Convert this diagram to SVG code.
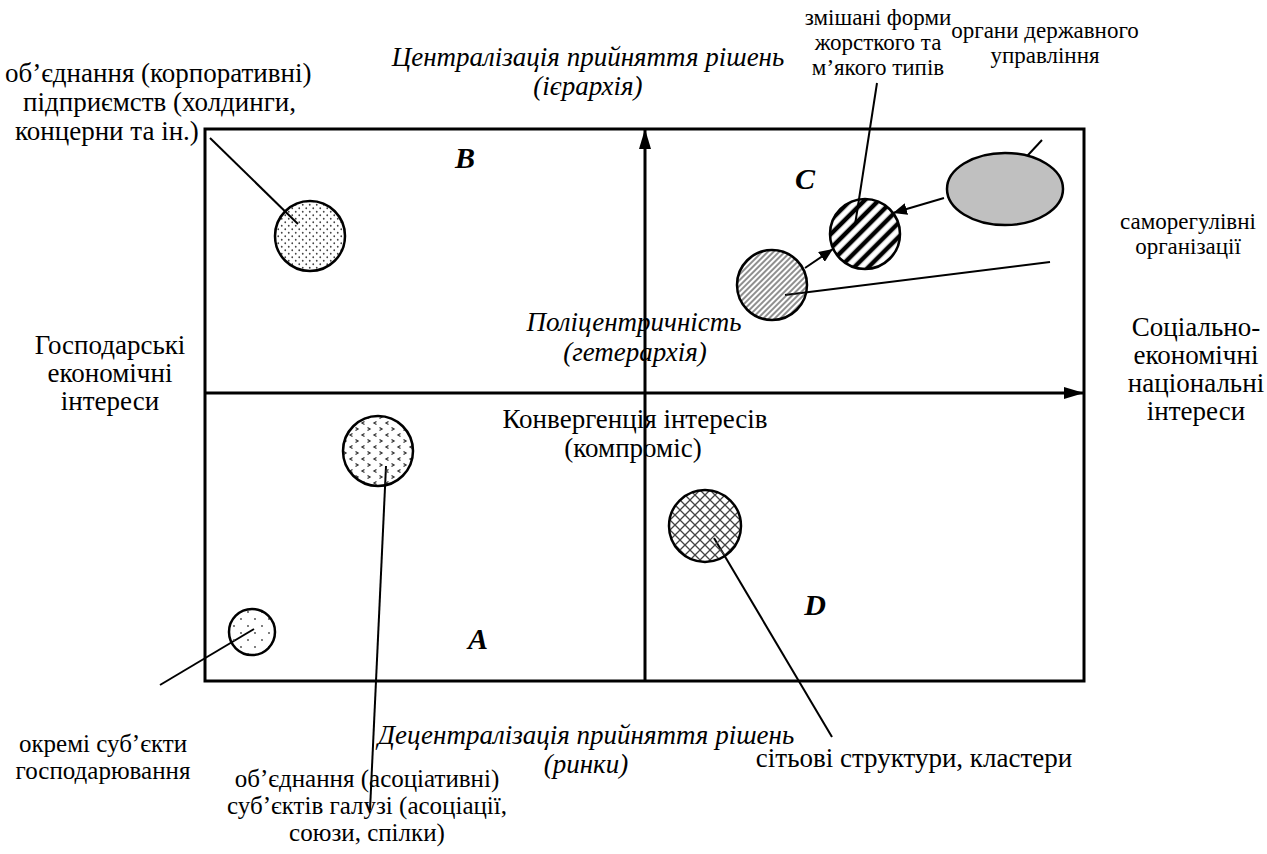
<svg xmlns="http://www.w3.org/2000/svg" width="1267" height="854" viewBox="0 0 1267 854">
<style>
text{font-family:"Liberation Serif","Times New Roman",serif;font-size:27px;fill:#000;text-anchor:middle}
.it{font-style:italic}
.st{text-anchor:start}
.sm{font-size:23px}
.md{font-size:25px}
.q{font-style:italic;font-weight:bold;font-size:30px}
.ln{stroke:#000;stroke-width:2;fill:none}
.ax{stroke:#000;stroke-width:3;fill:none}
.c{stroke:#000;stroke-width:2.5}
</style>
<defs>
<marker id="axh" viewBox="0 0 20 12" refX="20" refY="6" markerWidth="20" markerHeight="12" markerUnits="userSpaceOnUse" orient="auto"><path d="M0,0L20,6L0,12z" fill="#000"/></marker>
<marker id="sh" viewBox="0 0 14 12" refX="14" refY="6" markerWidth="14" markerHeight="12" markerUnits="userSpaceOnUse" orient="auto"><path d="M0,0L14,6L0,12z" fill="#000"/></marker>
<pattern id="pDots" width="7" height="7" patternUnits="userSpaceOnUse"><circle cx="1.75" cy="1.75" r="0.9" fill="#444"/><circle cx="5.25" cy="5.25" r="0.9" fill="#444"/></pattern>
<pattern id="pSparse" width="14" height="14" patternUnits="userSpaceOnUse"><circle cx="3" cy="3" r="0.9" fill="#444"/><circle cx="10" cy="10" r="0.9" fill="#444"/></pattern>
<pattern id="pChev" width="12" height="12" patternUnits="userSpaceOnUse"><path d="M4.5,1.5L2,3L4.5,4.5" stroke="#333" stroke-width="1.3" fill="none"/><path d="M7.5,7.5L10,9L7.5,10.5" stroke="#333" stroke-width="1.3" fill="none"/></pattern>
<pattern id="pCross" width="10" height="10" patternUnits="userSpaceOnUse"><path d="M0,0L10,10M10,0L0,10" stroke="#444" stroke-width="1.3"/></pattern>
<pattern id="pHatch" width="4" height="4" patternUnits="userSpaceOnUse" patternTransform="rotate(45)"><line x1="1" y1="0" x2="1" y2="4" stroke="#333" stroke-width="1.1"/></pattern>
<pattern id="pBold" width="10" height="10" patternUnits="userSpaceOnUse" patternTransform="rotate(45)"><line x1="3" y1="0" x2="3" y2="10" stroke="#000" stroke-width="4.5"/></pattern>
</defs>
<rect width="1267" height="854" fill="#fff"/>

<g id="frame">
<rect x="205" y="129" width="879" height="552" class="ax"/>
</g>

<g id="connectors">
<line x1="645" y1="681" x2="645" y2="129" class="ax" marker-end="url(#axh)"/>
<line x1="205" y1="393" x2="1084" y2="393" class="ax" marker-end="url(#axh)"/>
<line x1="210" y1="138" x2="298" y2="224" class="ln"/>
<line x1="160" y1="685" x2="254" y2="629" class="ln"/>
<line x1="370" y1="810" x2="386" y2="466" class="ln"/>
<line x1="714" y1="538" x2="832" y2="737" class="ln"/>
<line x1="785" y1="295" x2="1050" y2="262" class="ln"/>
<line x1="877" y1="83" x2="855" y2="225" class="ln"/>
<line x1="1042" y1="140" x2="1016" y2="168" class="ln"/>
<line x1="944" y1="198" x2="893" y2="213" class="ln" marker-end="url(#sh)"/>
<line x1="805" y1="268" x2="833" y2="249" class="ln" marker-end="url(#sh)"/>
</g>

<g id="nodeB"><circle cx="310" cy="236" r="35" fill="url(#pDots)" class="c"/></g>
<g id="nodeAssoc"><circle cx="378" cy="451" r="35" fill="url(#pChev)" class="c"/></g>
<g id="nodeSingle"><circle cx="252" cy="632" r="23" fill="url(#pSparse)" class="c"/></g>
<g id="nodeNet"><circle cx="705" cy="526" r="36" fill="url(#pCross)" class="c"/></g>
<g id="nodeSelfReg"><circle cx="772" cy="285" r="35" fill="url(#pHatch)" class="c"/></g>
<g id="nodeMixed"><circle cx="865" cy="234" r="35" fill="url(#pBold)" class="c"/></g>
<g id="nodeGov"><ellipse cx="1005" cy="189" rx="58" ry="36" fill="#c0c0c0" class="c"/></g>

<g id="labels">
<text x="5" y="82" class="st">об’єднання (корпоративні)</text>
<text x="23" y="111" class="st">підприємств (холдинги,</text>
<text x="15" y="140" class="st">концерни та ін.)</text>
<text x="588" y="66" class="it">Централізація прийняття рішень</text>
<text x="588" y="95" class="it">(ієрархія)</text>
<text x="878" y="25" class="sm">змішані форми</text>
<text x="878" y="50" class="sm">жорсткого та</text>
<text x="878" y="75" class="sm">м’якого типів</text>
<text x="1045" y="38" class="sm">органи державного</text>
<text x="1045" y="63" class="sm">управління</text>
<text x="1188" y="229" class="sm">саморегулівні</text>
<text x="1188" y="254" class="sm">організації</text>
<text x="465" y="168" class="q">B</text>
<text x="805" y="189" class="q">C</text>
<text x="478" y="649" class="q">A</text>
<text x="815" y="615" class="q">D</text>
<text x="634" y="331" class="it">Поліцентричність</text>
<text x="635" y="361" class="it">(гетерархія)</text>
<text x="110" y="354">Господарські</text>
<text x="110" y="382">економічні</text>
<text x="110" y="410">інтереси</text>
<text x="1196" y="336">Соціально-</text>
<text x="1196" y="364">економічні</text>
<text x="1196" y="392">національні</text>
<text x="1196" y="420">інтереси</text>
<text x="635" y="428">Конвергенція інтересів</text>
<text x="633" y="457">(компроміс)</text>
<text x="103" y="752" class="md">окремі суб’єкти</text>
<text x="103" y="779" class="md">господарювання</text>
<text x="586" y="744" class="it">Децентралізація прийняття рішень</text>
<text x="586" y="773" class="it">(ринки)</text>
<text x="914" y="767">сітьові структури, кластери</text>
<text x="367" y="787" class="md">об’єднання (асоціативні)</text>
<text x="367" y="814" class="md">суб’єктів галузі (асоціації,</text>
<text x="367" y="841" class="md">союзи, спілки)</text>
</g>
</svg>
